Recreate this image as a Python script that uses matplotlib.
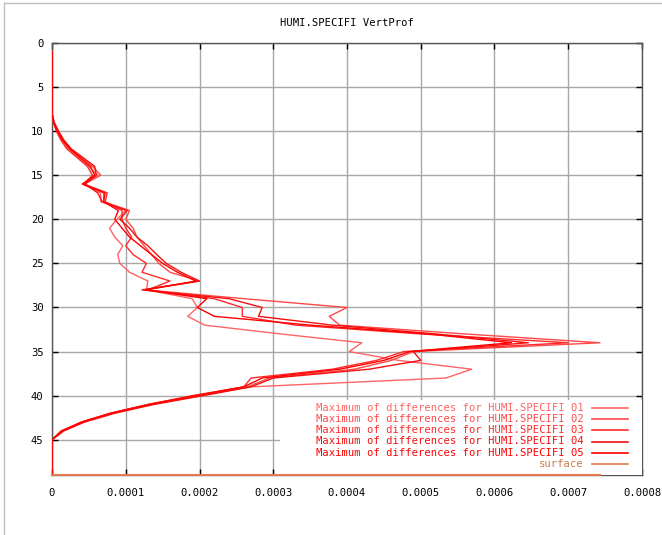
import matplotlib
matplotlib.use("Agg")
import matplotlib.pyplot as plt
from matplotlib.lines import Line2D
from matplotlib.patches import Rectangle
import numpy as np

levels = list(range(1, 50))

# values in units of 1e-4, levels 1..49
s01 = [0]*8 + [0.02, 0.07, 0.13, 0.22, 0.36, 0.50, 0.62, 0.42, 0.66, 0.66, 1.00, 0.88, 0.78, 0.85, 0.96, 0.89, 0.92, 1.05, 1.30,
               1.28, 1.90, 1.97, 1.84, 2.07, 3.10, 4.20, 4.03, 4.70, 5.69, 5.34, 2.70, 1.95, 1.30, 0.80, 0.40, 0.12, 0, 0, 0, 0, 0]
s02 = [0]*8 + [0.03, 0.08, 0.15, 0.25, 0.40, 0.55, 0.66, 0.44, 0.70, 0.70, 1.05, 1.00, 1.10, 1.15, 1.25, 1.35, 1.45, 1.60, 2.00,
               1.26, 2.60, 4.00, 3.76, 3.90, 5.60, 7.43, 4.90, 4.60, 4.10, 2.95, 2.65, 2.00, 1.35, 0.82, 0.42, 0.15, 0, 0, 0, 0, 0]
s03 = [0]*8 + [0.02, 0.06, 0.12, 0.20, 0.34, 0.48, 0.55, 0.43, 0.75, 0.72, 0.95, 0.95, 1.00, 1.08, 1.00, 1.10, 1.28, 1.22, 1.60,
               1.30, 2.20, 2.58, 2.58, 3.30, 5.00, 7.00, 4.77, 4.40, 3.80, 2.70, 2.60, 1.90, 1.30, 0.78, 0.40, 0.14, 0, 0, 0, 0, 0]
s04 = [0]*8 + [0.03, 0.09, 0.16, 0.26, 0.42, 0.58, 0.60, 0.45, 0.62, 0.68, 1.02, 0.92, 1.05, 1.15, 1.30, 1.42, 1.55, 1.75, 2.00,
               1.22, 2.40, 2.85, 2.80, 3.80, 5.20, 6.46, 4.90, 5.00, 4.30, 3.00, 2.70, 2.05, 1.38, 0.85, 0.44, 0.16, 0, 0, 0, 0, 0]
s05 = [0]*8 + [0.02, 0.07, 0.14, 0.24, 0.38, 0.52, 0.58, 0.41, 0.72, 0.70, 0.90, 0.85, 0.95, 1.05, 1.20, 1.35, 1.50, 1.70, 1.95,
               1.27, 2.10, 1.97, 2.20, 3.50, 5.10, 6.23, 4.85, 4.50, 3.90, 2.85, 2.60, 1.95, 1.32, 0.80, 0.40, 0.13, 0, 0, 0, 0, 0]

series = [s01, s02, s03, s04, s05]
labels = ["Maximum of differences for HUMI.SPECIFI 01",
          "Maximum of differences for HUMI.SPECIFI 02",
          "Maximum of differences for HUMI.SPECIFI 03",
          "Maximum of differences for HUMI.SPECIFI 04",
          "Maximum of differences for HUMI.SPECIFI 05"]
surface_label = "surface"
surface_level = 49
colors = ['#ff6464', '#ff4848', '#ff2a2a', '#f41010', '#ff0000']
surface_color = '#e07a50'

xticks = [0, 0.0001, 0.0002, 0.0003, 0.0004, 0.0005, 0.0006, 0.0007, 0.0008]
xticklabels = ["0", "0.0001", "0.0002", "0.0003", "0.0004", "0.0005", "0.0006", "0.0007", "0.0008"]
yticks = [0, 5, 10, 15, 20, 25, 30, 35, 40, 45]

mono = "DejaVu Sans Mono"
fs = 7.6

W, H = 662, 535
fig = plt.figure(figsize=(W/100, H/100), dpi=100)
ax_l, ax_r, ax_t, ax_b = 52, 642, 43, 475
ax = fig.add_axes([ax_l/W, 1 - ax_b/H, (ax_r-ax_l)/W, (ax_b-ax_t)/H])

for s, c in zip(series, colors):
    ax.plot(np.array(s)*1e-4, levels, color=c, lw=1.0, zorder=3)

xmax = max(max(s) for s in series)*1e-4
ax.plot([0, xmax], [surface_level, surface_level], color=surface_color, lw=1.5, zorder=6, clip_on=False)

ax.set_xlim(0, 0.0008)
ax.set_ylim(49, 0)
ax.set_xticks(xticks)
ax.set_xticklabels(xticklabels, fontfamily=mono, fontsize=fs)
ax.set_yticks(yticks)
ax.set_yticklabels([str(v) for v in yticks], fontfamily=mono, fontsize=fs)
ax.tick_params(direction='in', length=4, width=1, top=True, right=True, color='black')
ax.tick_params(axis='x', pad=9)
ax.tick_params(axis='y', pad=6)
ax.grid(True, color='#a8a8a8', lw=1, zorder=1)
ax.set_axisbelow(True)
for sp in ax.spines.values():
    sp.set_color('#555555')
    sp.set_linewidth(1)

ax.set_title("HUMI.SPECIFI VertProf", fontfamily=mono, fontsize=fs, pad=12)

# legend box (manual, gnuplot style)
def ax_y(py):
    return (ax_b - py) / (ax_b - ax_t)
def ax_x(px):
    return (px - ax_l) / (ax_r - ax_l)

ax.add_patch(Rectangle((ax_x(280), 0), 1 - ax_x(280), ax_y(400), transform=ax.transAxes,
                       facecolor='white', edgecolor='none', zorder=4))
rows = [408, 419, 430, 441.5, 452.5, 464]
for i, (lab, c) in enumerate(zip(labels + [surface_label], colors + [surface_color])):
    y = ax_y(rows[i])
    ax.text(ax_x(584), y, lab, transform=ax.transAxes, ha='right', va='center',
            fontfamily=mono, fontsize=fs, color=c if i < 5 else '#c8784a', zorder=5)
    ax.plot([ax_x(592), ax_x(628)], [y, y], transform=ax.transAxes, color=c, lw=1.2, zorder=5)

# outer gray frame
fig.add_artist(Line2D([4/W, 4/W], [0, 1 - 3/H], color='#c0c0c0', lw=1))
fig.add_artist(Line2D([4/W, 1], [1 - 3/H, 1 - 3/H], color='#c0c0c0', lw=1))

fig.savefig("out.png", dpi=100)
